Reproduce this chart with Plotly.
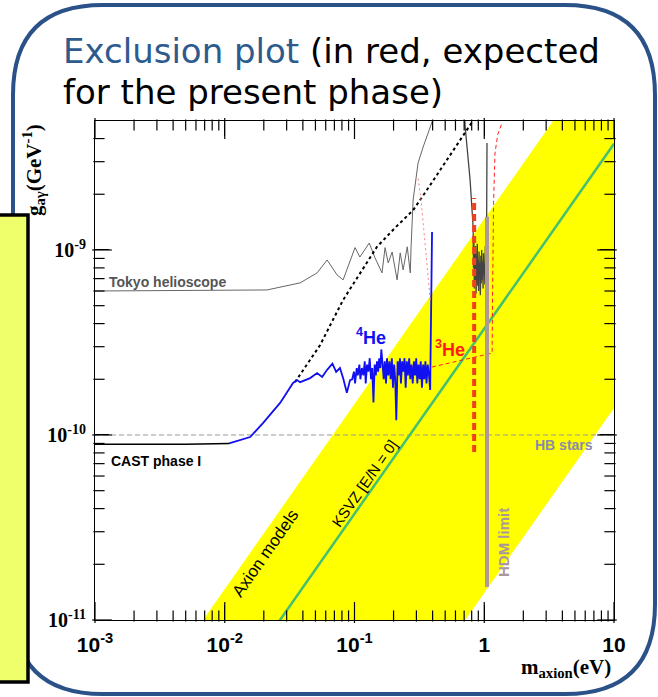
import plotly.graph_objects as go

# ---------------- data ----------------
x_tickvals = [0.001, 0.01, 0.1, 1, 10]
x_ticktext = ["<b>10<sup>-3</sup></b>", "<b>10<sup>-2</sup></b>", "<b>10<sup>-1</sup></b>", "<b>1</b>", "<b>10</b>"]
x_minor = [0.002, 0.003, 0.004, 0.005, 0.006, 0.007, 0.008, 0.009,
           0.02, 0.03, 0.04, 0.05, 0.06, 0.07, 0.08, 0.09,
           0.2, 0.3, 0.4, 0.5, 0.6, 0.7, 0.8, 0.9,
           2, 3, 4, 5, 6, 7, 8, 9]
y_tickvals = [1e-11, 1e-10, 1e-9]
y_ticktext = ["<b>10<sup>-11</sup></b>", "<b>10<sup>-10</sup></b>", "<b>10<sup>-9</sup></b>"]
y_minor = [2e-11, 3e-11, 4e-11, 5e-11, 6e-11, 7e-11, 8e-11, 9e-11,
           2e-10, 3e-10, 4e-10, 5e-10, 6e-10, 7e-10, 8e-10, 9e-10,
           2e-9, 3e-9, 4e-9]

band_m = [6.8e-4, 20, 20, 0.0714]
band_g = [1e-12, 2.94e-8, 2.8e-10, 1e-12]

ksvz_m = [0.01, 10]
ksvz_g = [3.75e-12, 3.75e-9]

hb_m = [0.001, 10]
hb_g = [1e-10, 1e-10]

tokyo_m = [0.001, 0.0212, 0.0381, 0.0515, 0.0615, 0.0734, 0.0817, 0.101, 0.110, 0.130, 0.144,
           0.163, 0.172, 0.182, 0.195, 0.213, 0.225, 0.237, 0.255, 0.269, 0.273, 0.283, 0.309,
           0.338, 0.396, 0.43]
tokyo_g = [6.0e-10, 6.08e-10, 6.64e-10, 7.52e-10, 8.83e-10, 7.33e-10, 6.89e-10, 1.03e-9, 9.16e-10,
           1.09e-9, 9.05e-10, 7.52e-10, 1.03e-9, 8.51e-10, 9.75e-10, 6.89e-10, 9.64e-10, 7.8e-10,
           1.04e-9, 7.52e-10, 1.04e-9, 1.86e-9, 2.95e-9, 3.6e-9, 4.92e-9, 8e-9]

tokyo2_m = [0.68, 0.713, 0.778, 0.821, 0.826, 0.832, 0.838, 0.845, 0.851, 0.857, 0.864, 0.870,
            0.877, 0.884, 0.891, 0.898, 0.905, 0.912, 0.919, 0.926, 0.933, 0.941, 0.948, 0.956,
            0.963, 0.971, 0.979, 0.987, 0.995, 1.003, 1.011, 1.019, 1.027, 1.035, 1.042, 1.05]
tokyo2_g = [8e-9, 4.62e-9, 2.39e-9, 1.33e-9, 8.0e-10, 1.1e-9, 6.2e-10, 9.5e-10, 6.8e-10, 1.05e-9,
            5.8e-10, 9.0e-10, 7.0e-10, 1.08e-9, 6.4e-10, 8.8e-10, 6.0e-10, 9.8e-10, 7.2e-10,
            8.5e-10, 5.7e-10, 9.3e-10, 6.6e-10, 1.0e-9, 6.9e-10, 8.7e-10, 6.2e-10, 9.6e-10,
            7.4e-10, 8.2e-10, 6.5e-10, 1.05e-9, 7.0e-10, 6.1e-10, 1.2e-9, 3.78e-9]

cast1_m = [0.001, 0.005, 0.0108]
cast1_g = [8.9e-11, 8.9e-11, 9.0e-11]

dot_m = [0.0348, 0.0543, 0.0817, 0.149, 0.206, 0.283, 0.383, 0.518, 0.807]
dot_g = [1.93e-10, 3.06e-10, 5.37e-10, 1.04e-9, 1.32e-9, 1.64e-9, 2.24e-9, 3.06e-9, 4.92e-9]

he4_m = [0.0108, 0.0157, 0.0197, 0.0267, 0.0336, 0.0361, 0.0381, 0.0455, 0.0515, 0.0563, 0.0615,
         0.0676, 0.0722, 0.0772, 0.0817, 0.0873, 0.0924,
         0.096, 0.099, 0.101, 0.104, 0.106, 0.109, 0.111, 0.114, 0.117, 0.120, 0.122, 0.125,
         0.128, 0.131, 0.134, 0.137, 0.140, 0.143, 0.146, 0.149, 0.152, 0.155, 0.158, 0.161,
         0.164, 0.168, 0.171, 0.175, 0.178, 0.182, 0.186, 0.190, 0.194, 0.198, 0.202, 0.206,
         0.210, 0.215, 0.219, 0.224, 0.228, 0.233, 0.238, 0.243, 0.248, 0.253, 0.258, 0.264,
         0.269, 0.275, 0.281, 0.287, 0.293, 0.299, 0.305, 0.311, 0.318, 0.324, 0.331, 0.338,
         0.345, 0.352, 0.359, 0.367, 0.375, 0.383, 0.385, 0.390, 0.393, 0.396]
he4_g = [9.0e-11, 9.75e-11, 1.16e-10, 1.49e-10, 1.91e-10, 1.98e-10, 1.93e-10, 2.03e-10, 2.16e-10,
         2.06e-10, 2.25e-10, 2.43e-10, 2.19e-10, 2.30e-10, 2.03e-10, 1.69e-10, 1.98e-10,
         2.0e-10, 2.2e-10, 1.9e-10, 2.3e-10, 2.1e-10, 2.4e-10, 2.0e-10, 2.3e-10, 2.1e-10, 2.5e-10,
         1.9e-10, 2.4e-10, 2.2e-10, 2.6e-10, 2.0e-10, 2.3e-10, 1.5e-10, 2.4e-10, 2.1e-10, 2.5e-10,
         2.2e-10, 2.6e-10, 2.3e-10, 2.9e-10, 2.4e-10, 2.0e-10, 2.5e-10, 1.9e-10, 2.6e-10, 2.1e-10,
         2.5e-10, 2.0e-10, 2.6e-10, 1.8e-10, 2.4e-10, 2.0e-10, 1.2e-10, 2.5e-10, 2.1e-10, 2.6e-10,
         1.9e-10, 2.5e-10, 2.2e-10, 2.6e-10, 1.8e-10, 2.5e-10, 2.1e-10, 2.6e-10, 2.0e-10, 2.4e-10,
         1.9e-10, 2.5e-10, 2.1e-10, 2.6e-10, 1.9e-10, 2.4e-10, 2.0e-10, 2.5e-10, 1.8e-10, 2.4e-10,
         2.0e-10, 2.5e-10, 1.9e-10, 2.4e-10, 2.1e-10, 1.75e-10, 2.4e-10, 5e-10, 9e-10, 1.25e-9]

he3_m = [0.396, 1.15, 1.16, 1.18, 1.21, 1.27, 1.37]
he3_g = [2.33e-10, 2.77e-10, 6e-10, 1.8e-9, 3.34e-9, 4.2e-9, 4.85e-9]

pink_m = [0.383, 0.35, 0.326, 0.309]
pink_g = [5.37e-10, 1.13e-9, 1.86e-9, 2.45e-9]

exp_m = [0.836, 0.836]
exp_g = [8.1e-11, 1.91e-9]

hdm_m = [1.05, 1.05]
hdm_g = [1.51e-11, 1.51e-9]

# ---------------- layout geometry ----------------
W, H = 658, 697
L, R, T, B = 95, 614, 121, 620
XR = [-3, 1]
YR = [-11, -8.303]
PX_PER_DEC_X = (R - L) / (XR[1] - XR[0])
PX_PER_DEC_Y = (B - T) / (YR[1] - YR[0])


def px(xp):
    return (xp - L) / (R - L)


def py(yp):
    return (B - yp) / (B - T)


fig = go.Figure()


def sc(x, y, **kw):
    fig.add_trace(go.Scatter(x=x, y=y, mode="lines", hoverinfo="skip", **kw))


sc(band_m, band_g, fill="toself", fillcolor="#FFFF00", line=dict(width=0))
sc(hb_m, hb_g, line=dict(color="#999999", width=1, dash="5px,3px"))
sc(ksvz_m, ksvz_g, line=dict(color="#44C070", width=2.5))
sc(tokyo_m, tokyo_g, line=dict(color="#666666", width=1))
sc(tokyo2_m, tokyo2_g, line=dict(color="#444444", width=1.3))
sc(cast1_m, cast1_g, line=dict(color="black", width=1.5))
sc(dot_m, dot_g, line=dict(color="black", width=2, dash="3px,3px"))
sc(he4_m, he4_g, line=dict(color="#1010F0", width=1.8))
sc(pink_m, pink_g, line=dict(color="#FF8080", width=1, dash="2px,3px"))
sc(he3_m, he3_g, line=dict(color="#FF2020", width=1, dash="4px,3px"))
sc(exp_m, exp_g, line=dict(color="#F04020", width=4, dash="7px,4px"))
sc(hdm_m, hdm_g, line=dict(color="#B09898", width=4))

# inside tick marks (ROOT style) on all four sides, drawn as line-symbol markers
xlo, xhi = 10 ** XR[0], 10 ** XR[1]
ylo, yhi = 10 ** YR[0], 10 ** YR[1]
for vals, ln in [(x_tickvals, 15), (x_minor, 8)]:
    f = 10 ** (ln / 2 / PX_PER_DEC_Y)
    mx = [v for v in vals] * 2
    my = [ylo * f] * len(vals) + [yhi / f] * len(vals)
    fig.add_trace(go.Scatter(x=mx, y=my, mode="markers", hoverinfo="skip", cliponaxis=False,
                             marker=dict(symbol="line-ns", size=ln, color="black",
                                         line=dict(color="black", width=1.2))))
for vals, ln in [(y_tickvals, 14), (y_minor, 8)]:
    f = 10 ** (ln / 2 / PX_PER_DEC_X)
    mx = [xlo * f] * len(vals) + [xhi / f] * len(vals)
    my = [v for v in vals] * 2
    fig.add_trace(go.Scatter(x=mx, y=my, mode="markers", hoverinfo="skip", cliponaxis=False,
                             marker=dict(symbol="line-ew", size=ln, color="black",
                                         line=dict(color="black", width=1.2))))

fig.update_xaxes(type="log", range=XR, showline=True, linecolor="black", linewidth=1,
                 mirror="allticks", ticks="inside", ticklen=15, tickcolor="black",
                 showgrid=False, zeroline=False, tickmode="array",
                 tickvals=x_tickvals, ticktext=x_ticktext, ticklabelstandoff=6,
                 tickfont=dict(family="Liberation Sans", size=21, color="black"))
fig.update_yaxes(type="log", range=YR, showline=True, linecolor="black", linewidth=1,
                 mirror="allticks", ticks="inside", ticklen=14, tickcolor="black",
                 showgrid=False, zeroline=False, tickmode="array",
                 tickvals=y_tickvals, ticktext=y_ticktext, ticklabelstandoff=4,
                 tickfont=dict(family="Liberation Serif", size=20, color="black"))

# rounded slide frame
x0, y0, x1, y1, r = 13, 5, 655, 694, 90
path = (f"M {px(x0)},{py(y0 + r)} Q {px(x0)},{py(y0)} {px(x0 + r)},{py(y0)} "
        f"L {px(x1 - r)},{py(y0)} Q {px(x1)},{py(y0)} {px(x1)},{py(y0 + r)} "
        f"L {px(x1)},{py(y1 - r)} Q {px(x1)},{py(y1)} {px(x1 - r)},{py(y1)} "
        f"L {px(x0 + r)},{py(y1)} Q {px(x0)},{py(y1)} {px(x0)},{py(y1 - r)} Z")
shapes = [
    dict(type="path", xref="paper", yref="paper", path=path,
         line=dict(color="#2B5288", width=4), layer="above"),
    dict(type="rect", xref="paper", yref="paper", x0=px(-10), x1=px(28), y0=py(682), y1=py(215),
         fillcolor="#EFFF6B", line=dict(color="black", width=3.5), layer="above"),
]

ann = []


def add(text, x, y, size, color="black", family="Liberation Sans", angle=0, xanchor="center"):
    ann.append(dict(text=text, x=px(x), y=py(y), xref="paper", yref="paper", showarrow=False,
                    font=dict(family=family, size=size, color=color), textangle=angle,
                    xanchor=xanchor, yanchor="middle"))


title_font = "DejaVu Sans"
add("<span style='color:#2E5B8E'>Exclusion plot</span> (in red, expected", 61, 51, 34,
    family=title_font, xanchor="left")
add("for the present phase)", 61, 92, 34, family=title_font, xanchor="left")

add("<b>Tokyo helioscope</b>", 107, 282, 14, color="#555555", xanchor="left")
add("<b>CAST phase I</b>", 109, 461, 14, color="black", xanchor="left")
add("<b>HB stars</b>", 533, 445, 14, color="#8A8AAA", xanchor="left")
add("<b>HDM limit</b>", 503, 543, 15, color="#A8979C", angle=-90)
add("Axion models", 265, 553, 17, angle=-55)
add("KSVZ [E/N = 0]", 364, 483, 15, angle=-55)
add("<b><sup>4</sup>He</b>", 371, 336, 18, color="#1010F0")
add("<b><sup>3</sup>He</b>", 450, 348, 18, color="#FF1A1A")
add("<b>g<sub>aγ</sub>(GeV<sup>-1</sup>)</b>", 33, 170, 21, family="Liberation Serif", angle=-90)
add("<b>m<sub>axion</sub>(eV)</b>", 566, 668, 21, family="Liberation Serif")

fig.update_layout(width=W, height=H, margin=dict(l=L, r=W - R, t=T, b=H - B, autoexpand=False),
                  template="none", paper_bgcolor="white", plot_bgcolor="white", showlegend=False,
                  shapes=shapes, annotations=ann)

fig.write_html("out.html", config={"displayModeBar": False},
               post_script="document.body.style.margin='0';")
